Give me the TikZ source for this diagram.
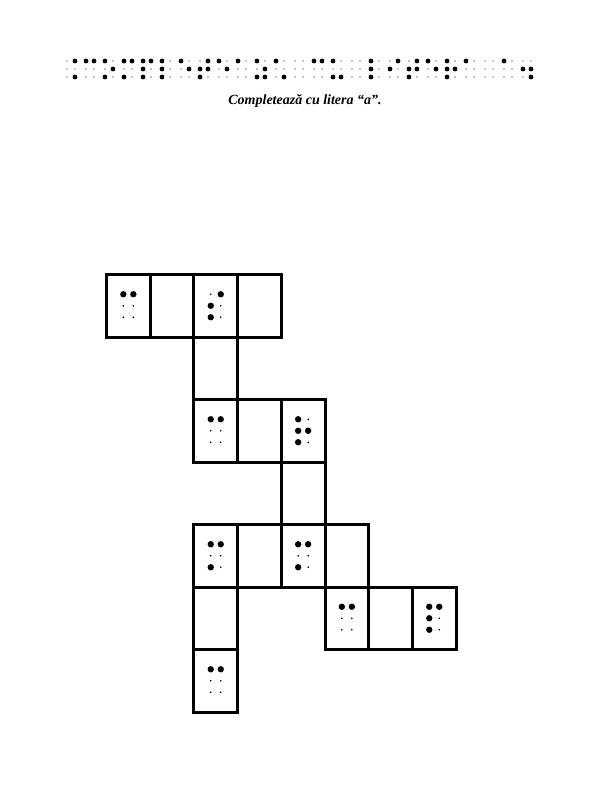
\documentclass[tikz,border=0pt]{standalone}
\usepackage{fontspec}
\setmainfont{Liberation Serif}
\tikzset{
  cellbox/.style={draw=black, line width=3pt, minimum width=43.7pt, minimum height=62.5pt, inner sep=0pt, outer sep=0pt},
  titletext/.style={font=\fontsize{14}{16}\selectfont\bfseries\itshape, inner sep=0pt},
}
% braille cell at absolute position: x y hsp vsp rbig rsmall dots
\newcommand\brcell[7]{%
  \foreach \k in {1,...,6}{%
    \pgfmathtruncatemacro\cc{(\k-1)/3}%
    \pgfmathtruncatemacro\rr{\k-1-3*\cc}%
    \fill (#1+\cc*#3,#2+\rr*#4) circle[radius=#6];}%
  \foreach \k in {#7}{%
    \ifnum\k>0
    \pgfmathtruncatemacro\cc{(\k-1)/3}%
    \pgfmathtruncatemacro\rr{\k-1-3*\cc}%
    \fill (#1+\cc*#3,#2+\rr*#4) circle[radius=#5];%
    \fi}%
}
% braille cell centred in a box node: node dots
\newcommand\boxbr[2]{%
  \foreach \k in {1,...,6}{%
    \pgfmathtruncatemacro\cc{(\k-1)/3}%
    \pgfmathtruncatemacro\rr{\k-1-3*\cc}%
    \fill ([shift={(\cc*10-5,\rr*11.5-11.5)}]#1.center) circle[radius=0.9];}%
  \foreach \k in {#2}{%
    \pgfmathtruncatemacro\cc{(\k-1)/3}%
    \pgfmathtruncatemacro\rr{\k-1-3*\cc}%
    \fill ([shift={(\cc*10-5,\rr*11.5-11.5)}]#1.center) circle[radius=3.2];}%
}
\newcommand\topbr[2]{\brcell{#1}{61}{8}{8}{2.4}{0.7}{#2}}
\begin{document}
\begin{tikzpicture}[x=1pt,y=-1pt]
\fill[white] (0,0) rectangle (600,800);
\useasboundingbox (0,0) rectangle (600,800);
% top braille line
\topbr{67}{4,6}
\topbr{86}{1,4}
\topbr{105}{1,3,5}
\topbr{124}{1,3,4}
\topbr{143}{1,2,3,4}
\topbr{162}{1,2,3}
\topbr{181}{1,5}
\topbr{200}{2,3,4,5}
\topbr{219}{1,5}
\topbr{238}{1}
\topbr{257}{1,3,5,6}
\topbr{276}{1,6}
\topbr{295}{0}
\topbr{314}{1,4}
\topbr{333}{1,3,6}
\topbr{352}{0}
\topbr{371}{1,2,3}
\topbr{390}{2,4}
\topbr{409}{2,3,4,5}
\topbr{428}{1,5}
\topbr{447}{1,2,3,5}
\topbr{466}{1}
\topbr{485}{0}
\topbr{504}{1}
\topbr{523}{2,5,6}
% title
\node[titletext] (title) at (305,101.5) {Completează cu litera “a”.};
% boxes: centre x = 128.35 + 43.7 c, centre y = 305.75 + 62.5 r
\node[cellbox] (b00) at (128.35,305.75) {};
\node[cellbox] (b01) at (172.05,305.75) {};
\node[cellbox] (b02) at (215.75,305.75) {};
\node[cellbox] (b03) at (259.45,305.75) {};
\node[cellbox] (b12) at (215.75,368.25) {};
\node[cellbox] (b22) at (215.75,430.75) {};
\node[cellbox] (b23) at (259.45,430.75) {};
\node[cellbox] (b24) at (303.15,430.75) {};
\node[cellbox] (b34) at (303.15,493.25) {};
\node[cellbox] (b42) at (215.75,555.75) {};
\node[cellbox] (b43) at (259.45,555.75) {};
\node[cellbox] (b44) at (303.15,555.75) {};
\node[cellbox] (b45) at (346.85,555.75) {};
\node[cellbox] (b52) at (215.75,618.25) {};
\node[cellbox] (b55) at (346.85,618.25) {};
\node[cellbox] (b56) at (390.55,618.25) {};
\node[cellbox] (b57) at (434.25,618.25) {};
\node[cellbox] (b62) at (215.75,680.75) {};
% braille in boxes
\boxbr{b00}{1,4}
\boxbr{b02}{2,3,4}
\boxbr{b22}{1,4}
\boxbr{b24}{1,2,3,5}
\boxbr{b42}{1,3,4}
\boxbr{b44}{1,3,4}
\boxbr{b55}{1,4}
\boxbr{b57}{1,2,3,4}
\boxbr{b62}{1,4}
\end{tikzpicture}
\end{document}
